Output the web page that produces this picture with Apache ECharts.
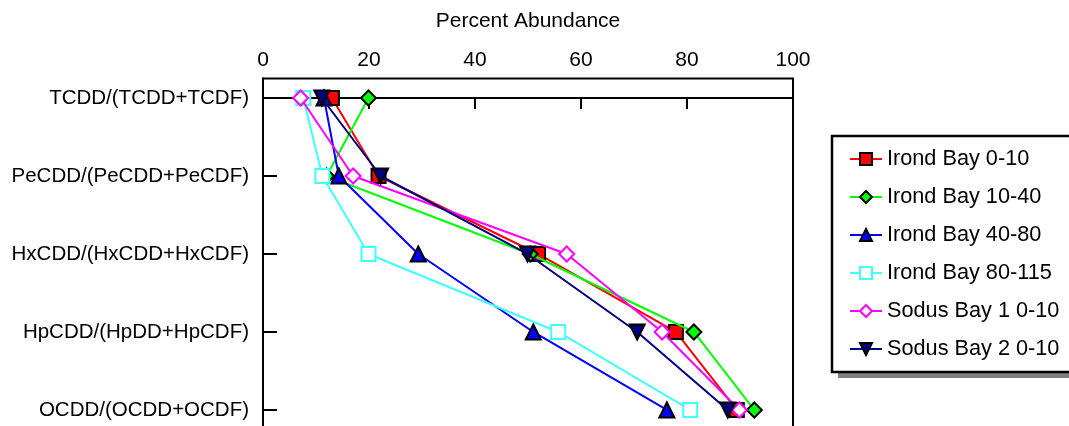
<!DOCTYPE html>
<html><head><meta charset="utf-8">
<script src="https://cdn.jsdelivr.net/npm/echarts@6/dist/echarts.min.js"></script>
<style>html,body{margin:0;padding:0;background:#fff}#c{width:1069px;height:426px}</style>
</head><body><div id="c"></div>
<script>
const categories = ['TCDD/(TCDD+TCDF)','PeCDD/(PeCDD+PeCDF)','HxCDD/(HxCDD+HxCDF)','HpCDD/(HpDD+HpCDF)','OCDD/(OCDD+OCDF)'];
const xTicks = [0,20,40,60,80,100];
const seriesNames = ['Irond Bay 0-10','Irond Bay 10-40','Irond Bay 40-80','Irond Bay 80-115','Sodus Bay 1 0-10','Sodus Bay 2 0-10'];
const irond0_10   = [13.0, 21.8, 51.9, 77.9, 89.4];
const irond10_40  = [19.9, 12.0, 50.4, 81.3, 92.7];
const irond40_80  = [11.5, 14.3, 29.3, 51.0, 76.2];
const irond80_115 = [7.6, 11.2, 19.9, 55.7, 80.6];
const sodus1      = [7.1, 17.0, 57.3, 75.3, 89.9];
const sodus2      = [11.1, 22.2, 49.9, 70.6, 87.7];

const FONT = "'Liberation Sans', Arial, sans-serif";
const styles = [
  {line:'#ff0000', fill:'#ff0000', border:'#000', symbol:'rect', size:14, rot:0},
  {line:'#00ff00', fill:'#00ff00', border:'#000', symbol:'diamond', size:15, rot:0},
  {line:'#0000ff', fill:'#0000ff', border:'#000', symbol:'triangle', size:15, rot:0},
  {line:'#40ffff', fill:'#ffffff', border:'#40ffff', symbol:'rect', size:14, rot:0},
  {line:'#ff00ff', fill:'#ffffff', border:'#ff00ff', symbol:'diamond', size:15, rot:0},
  {line:'#000080', fill:'#000080', border:'#000', symbol:'triangle', size:15, rot:180}
];
const allValues = [irond0_10, irond10_40, irond40_80, irond80_115, sodus1, sodus2];

const series = allValues.map((vals, i) => ({
  name: seriesNames[i],
  type: 'line',
  data: vals.map((v, j) => [v, j]),
  symbol: styles[i].symbol,
  symbolSize: styles[i].size,
  symbolRotate: styles[i].rot,
  lineStyle: {color: styles[i].line, width: 2},
  itemStyle: {color: styles[i].fill, borderColor: styles[i].border, borderWidth: 2},
  emphasis: {disabled: true},
  animation: false,
  z: 2 + i
}));

const chart = echarts.init(document.getElementById('c'), null, {renderer: 'canvas'});
chart.setOption({
  animation: false,
  backgroundColor: '#fff',
  textStyle: {fontFamily: FONT},
  grid: {left: 263, top: 78.5, width: 530, height: 358, show: true, borderColor: '#000', borderWidth: 2,
    backgroundColor: 'transparent', containLabel: false, outerBoundsMode: 'none'},
  graphic: [
    {type: 'rect', shape: {x: 838, y: 142, width: 260, height: 236}, style: {fill: '#808080'}, z: 0},
    {type: 'rect', shape: {x: 832, y: 136, width: 260, height: 236}, style: {fill: '#fff', stroke: '#000', lineWidth: 2.5}, z: 1}
  ],
  legend: {
    orient: 'vertical', left: 849, top: 147, padding: 0,
    itemWidth: 32, itemHeight: 15, itemGap: 14,
    data: seriesNames,
    textStyle: {fontFamily: FONT, fontSize: 21.7, color: '#000', lineHeight: 24},
    z: 10
  },
  xAxis: {
    type: 'value', position: 'top', min: 0, max: 100, interval: 20,
    name: 'Percent Abundance', nameLocation: 'middle', nameGap: 47,
    nameTextStyle: {fontFamily: FONT, fontSize: 21, color: '#000'},
    axisLine: {show: true, lineStyle: {color: '#000', width: 2}},
    axisTick: {show: true, inside: true, length: 11, lineStyle: {color: '#000', width: 2}},
    axisLabel: {fontFamily: FONT, fontSize: 21, color: '#000', margin: 8,
      customValues: xTicks},
    splitLine: {show: false}
  },
  yAxis: {
    type: 'value', inverse: true, min: -0.25, max: 4.34,
    axisLine: {show: true, lineStyle: {color: '#000', width: 2}},
    axisTick: {show: true, inside: true, length: 14, lineStyle: {color: '#000', width: 2},
      customValues: [0,1,2,3,4]},
    axisLabel: {fontFamily: FONT, fontSize: 20.5, color: '#000', margin: 14,
      customValues: [0,1,2,3,4],
      formatter: v => categories[Math.round(v)] || ''},
    splitLine: {show: false}
  },
  series: series
});
</script>
</body></html>
